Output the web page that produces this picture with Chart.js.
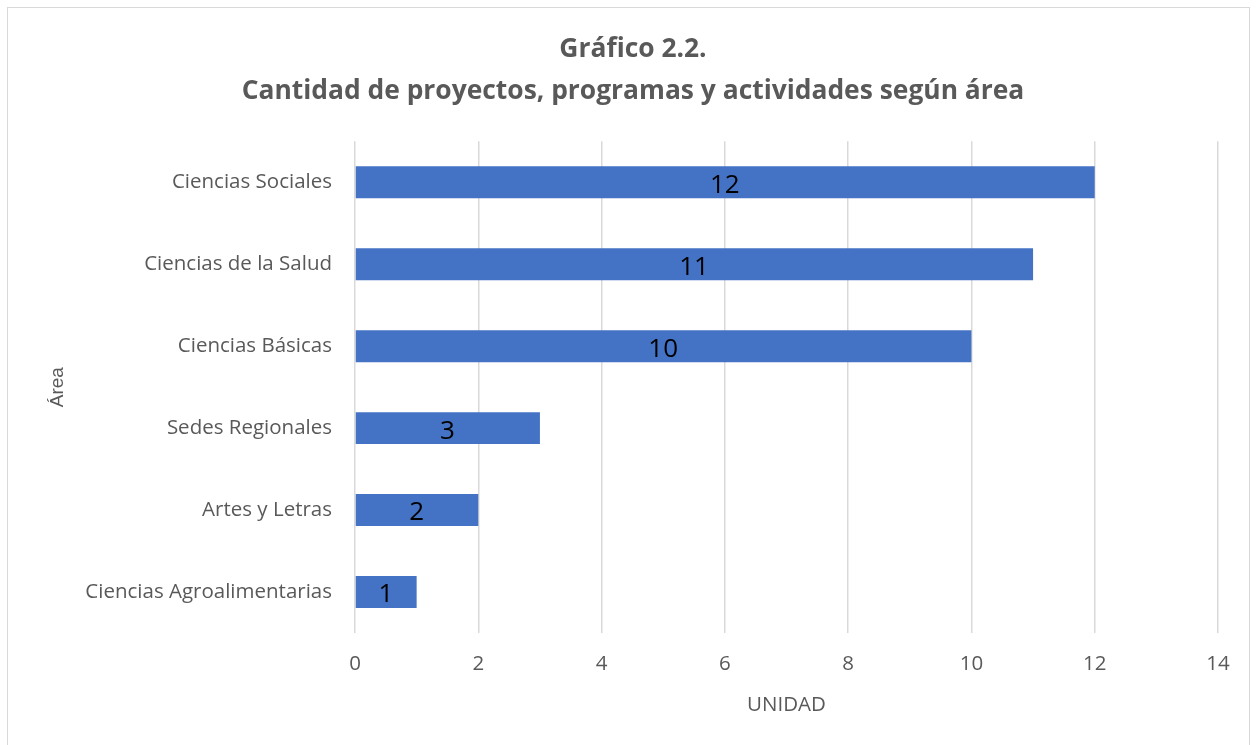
<!DOCTYPE html>
<html>
<head>
<meta charset="utf-8">
<script src="https://cdn.jsdelivr.net/npm/chart.js@4.4.0/dist/chart.umd.min.js"></script>
<style>
  body { margin: 0; background: #fff; overflow: hidden; }
  #wrap { position: relative; width: 1258px; height: 745px; }
  #frame { position: absolute; left: 7px; top: 7px; width: 1243px; height: 760px; border: 1.5px solid #d9d9d9; box-sizing: border-box; }
  canvas { position: absolute; left: 0; top: 0; }
</style>
</head>
<body>
<div id="wrap">
  <div id="frame"></div>
  <canvas id="areaChart" width="1258" height="745"></canvas>
</div>
<script>
// datos del gráfico
const areas = [
  "Ciencias Sociales",
  "Ciencias de la Salud",
  "Ciencias Básicas",
  "Sedes Regionales",
  "Artes y Letras",
  "Ciencias Agroalimentarias",
];
const cantidades = [12, 11, 10, 3, 2, 1];
const titleLines = ["Gráfico 2.2.", "Cantidad de proyectos, programas y actividades según área"];
const xTitle = "UNIDAD";
const yTitle = "Área";

const FONT = "'Open Sans', Lato, sans-serif";
const GRAY = "#595959";

// etiquetas dentro de las barras
const barLabels = {
  id: "barLabels",
  afterDatasetsDraw(chart) {
    const ctx = chart.ctx;
    const meta = chart.getDatasetMeta(0);
    const xScale = chart.scales.x;
    ctx.save();
    ctx.font = "26px " + FONT;
    ctx.fillStyle = "#000";
    ctx.textAlign = "center";
    ctx.textBaseline = "middle";
    meta.data.forEach((bar, i) => {
      const v = chart.data.datasets[0].data[i];
      const x = xScale.getPixelForValue(v / 2);
      ctx.fillText(String(v), x, bar.y + 3);
    });
    ctx.restore();
  },
};

const ctx = document.getElementById("areaChart").getContext("2d");
const chart = new Chart(ctx, {
  type: "bar",
  data: {
    labels: areas,
    datasets: [
      {
        data: cantidades,
        backgroundColor: "#4472C4",
        borderWidth: 0,
        categoryPercentage: 1,
        barPercentage: 0.39,
      },
    ],
  },
  options: {
    indexAxis: "y",
    responsive: false,
    animation: false,
    layout: { padding: { left: 48, right: 40, top: 0, bottom: 0 } },
    plugins: {
      legend: { display: false },
      tooltip: { enabled: false },
      title: {
        display: true,
        text: titleLines,
        color: GRAY,
        font: { family: FONT, size: 26.4, weight: "bold", lineHeight: 1.6 },
        padding: { top: 28, bottom: 28.8 },
      },
    },
    scales: {
      x: {
        min: 0,
        max: 14,
        ticks: { stepSize: 2, color: GRAY, font: { family: FONT, size: 20.5 }, padding: 19 },
        grid: { color: "#d9d9d9", lineWidth: 1.5, drawTicks: false },
        border: { display: false },
        title: {
          display: true,
          text: xTitle,
          color: GRAY,
          font: { family: FONT, size: 20.5 },
          padding: { top: 0, bottom: 28 },
        },
        afterFit(scale) {
          scale.height = 112;
        },
      },
      y: {
        ticks: { color: GRAY, font: { family: FONT, size: 20.5 }, padding: 23 },
        grid: { display: false, drawTicks: false },
        border: { display: false },
        title: {
          display: true,
          text: yTitle,
          color: GRAY,
          font: { family: "'Liberation Sans', Arial, sans-serif", size: 19 },
          padding: { top: -2, bottom: 0 },
        },
        afterFit(scale) {
          scale.width = 307;
        },
      },
    },
  },
  plugins: [barLabels],
});
</script>
</body>
</html>
